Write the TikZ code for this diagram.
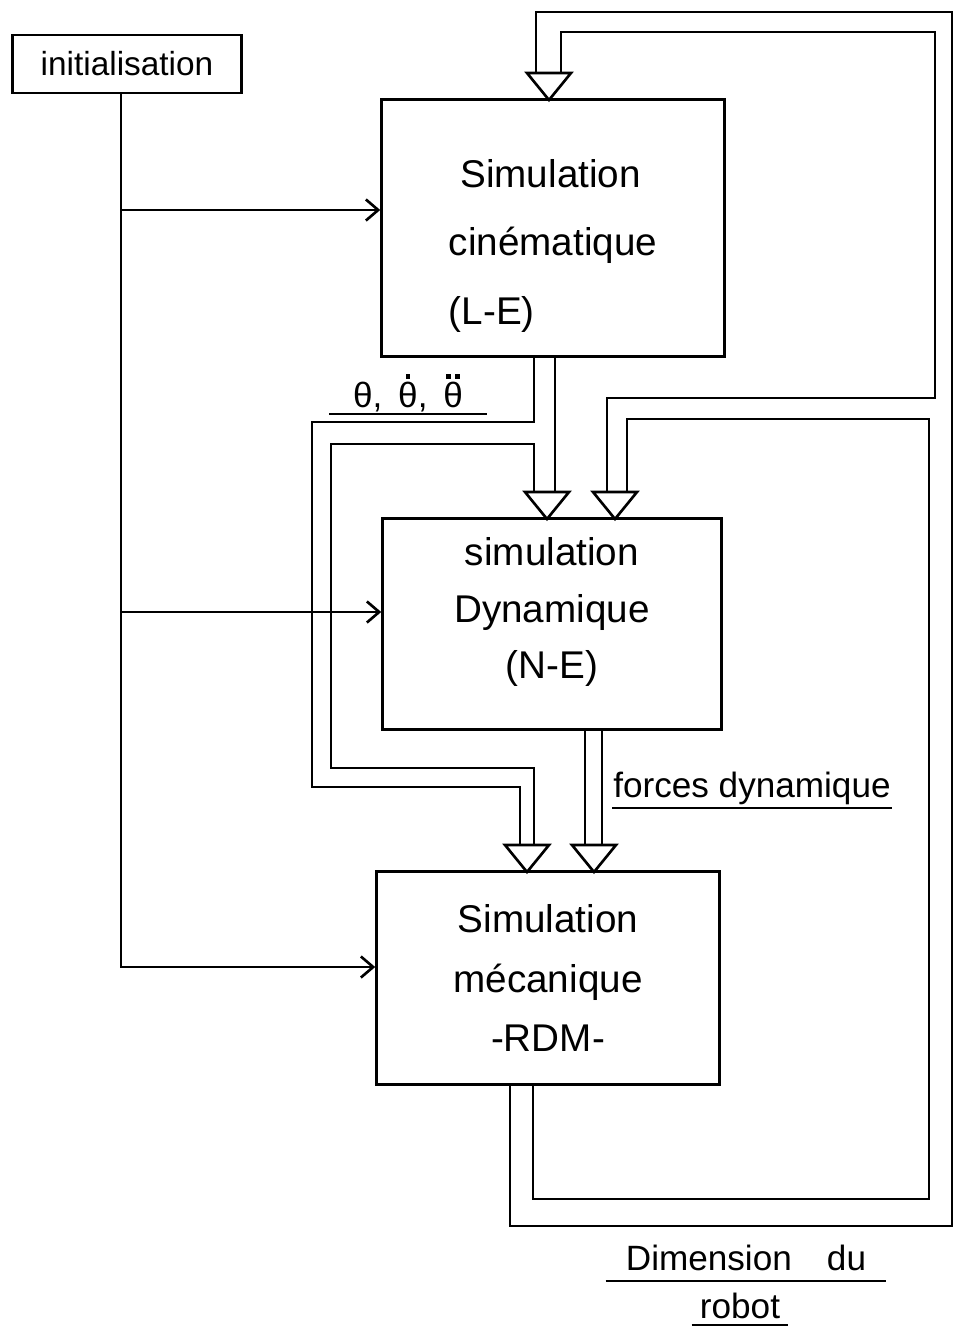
\documentclass[tikz,border=0pt]{standalone}
\usepackage{fontspec}
\setmainfont{Liberation Sans}
\usetikzlibrary{arrows.meta,calc}

%% hollow head of a double-line (band) arrow, tip at the origin
\tikzset{headtri/.pic={\draw[fill=white] (-22,-27) -- (22,-27) -- (0,0) -- cycle;}}
%% theta with drawn dots above it
\newcommand\thdot[1]{\ooalign{θ\cr\hidewidth\raisebox{0.8em}{#1}\hidewidth\cr}}
\newcommand\dotmk{\rule{2.6pt}{2.6pt}}

\begin{document}
\begin{tikzpicture}[
  x=0.02cm, y=-0.02cm,
  line width=1.5pt,
  blk/.style={rectangle, draw, fill=white, font=\fontsize{22}{34}\selectfont, inner sep=0pt},
  start/.style={rectangle, draw, fill=white, font=\fontsize{19}{22}\selectfont, minimum width=4.58cm, minimum height=1.16cm, inner sep=0pt},
  lbl/.style={font=\fontsize{20}{24}\selectfont, inner xsep=0pt, inner ysep=2pt, anchor=base},
  flow/.style={-{Straight Barb[length=7pt,width=12pt]}},
  band/.style={line cap=butt}
]
  \useasboundingbox (0,0) rectangle (959,1329);

  %% ── Blocks ────────────────────────────────────────────────────────────────
  \node[start] (init) at (127,64) {initialisation};
  \node[blk, align=left, font=\fontsize{22}{39}\selectfont,
        minimum width=6.86cm, minimum height=5.14cm] (cin) at (553,228)
    {\rule{0pt}{36pt}\hspace{0.3em}Simulation\\cinématique\\(L-E)};
  \node[blk, align=center, font=\fontsize{22}{32}\selectfont,
        minimum width=6.78cm, minimum height=4.22cm] (dyn) at (552,624)
    {simulation\\Dynamique\\(N-E)\rule[-18pt]{0pt}{18pt}};
  \node[blk, align=center, minimum width=6.86cm, minimum height=4.26cm] (rdm) at (548,978)
    {Simulation\\mécanique\\-RDM-};

  %% ── Initialisation feeds ──────────────────────────────────────────────────
  \coordinate (jt) at ($(init.south)+(-6,0)$);
  \coordinate (jc) at (jt |- 0,210);
  \coordinate (jd) at (jt |- 0,612);
  \coordinate (jr) at (jt |- 0,967);
  \draw[flow] (jt) -- (jr) -- (jr -| rdm.west);
  \draw[flow] (jc) -- (jc -| cin.west);
  \draw[flow] (jd) -- (jd -| dyn.west);

  %% ── Band arrow heads ──────────────────────────────────────────────────────
  \coordinate (hc)  at (549,100);
  \coordinate (hd1) at (547,519);
  \coordinate (hd2) at (615,519);
  \coordinate (hr1) at (527,872);
  \coordinate (hr2) at (594,872);

  %% ── Band: angles  cin -> dyn, cin -> rdm ──────────────────────────────────
  \draw[band] (534,357) -- (534,422) -- (312,422) -- (312,787) -- (520,787) -- ($(hr1)+(-7,-25)$);
  \draw[band] (555,357) -- ($(hd1)+(8,-27)$);
  \draw[band] ($(hd1)+(-13,-27)$) -- (534,444) -- (331,444) -- (331,768) -- (534,768) -- ($(hr1)+(7,-25)$);

  %% ── Band: forces  dyn -> rdm ──────────────────────────────────────────────
  \draw[band] (585,730) -- ($(hr2)+(-9,-25)$);
  \draw[band] (602,730) -- ($(hr2)+(8,-25)$);

  %% ── Band: dimensions  rdm -> cin, rdm -> dyn ──────────────────────────────
  \draw[band] (510,1085) -- (510,1226) -- (952,1226) -- (952,12) -- (536,12) -- ($(hc)+(-13,-27)$);
  \draw[band] ($(hc)+(12,-27)$) -- (561,32) -- (935,32) -- (935,398) -- (607,398) -- ($(hd2)+(-8,-27)$);
  \draw[band] ($(hd2)+(12,-27)$) -- (627,419) -- (929,419) -- (929,1199) -- (533,1199) -- (533,1085);

  \foreach \h in {hc,hd1,hd2,hr1,hr2}
    \pic at (\h) {headtri};

  %% ── Labels ────────────────────────────────────────────────────────────────
  \node[lbl, minimum width=3.1cm] (angles) at (408,407)
    {θ,\hspace{0.45em}\thdot{\dotmk},\hspace{0.45em}\thdot{\dotmk\hspace{2.5pt}\dotmk}};
  \draw ($(angles.base west)+(0,7)$) -- ($(angles.base east)+(0,7)$);
  \node[lbl, minimum width=5.3cm] (forces) at (752,797) {forces dynamique};
  \draw ($(forces.base west)+(0,11)$) -- ($(forces.base east)+(0,11)$);
  \node[lbl, minimum width=5.56cm] (dims) at (746,1270) {Dimension\quad du};
  \draw ($(dims.base west)+(0,11)$) -- ($(dims.base east)+(0,11)$);
  \node[lbl, minimum width=1.88cm] (robot) at (740,1318) {robot};
  \draw ($(robot.base west)+(0,7)$) -- ($(robot.base east)+(0,7)$);
\end{tikzpicture}
\end{document}
